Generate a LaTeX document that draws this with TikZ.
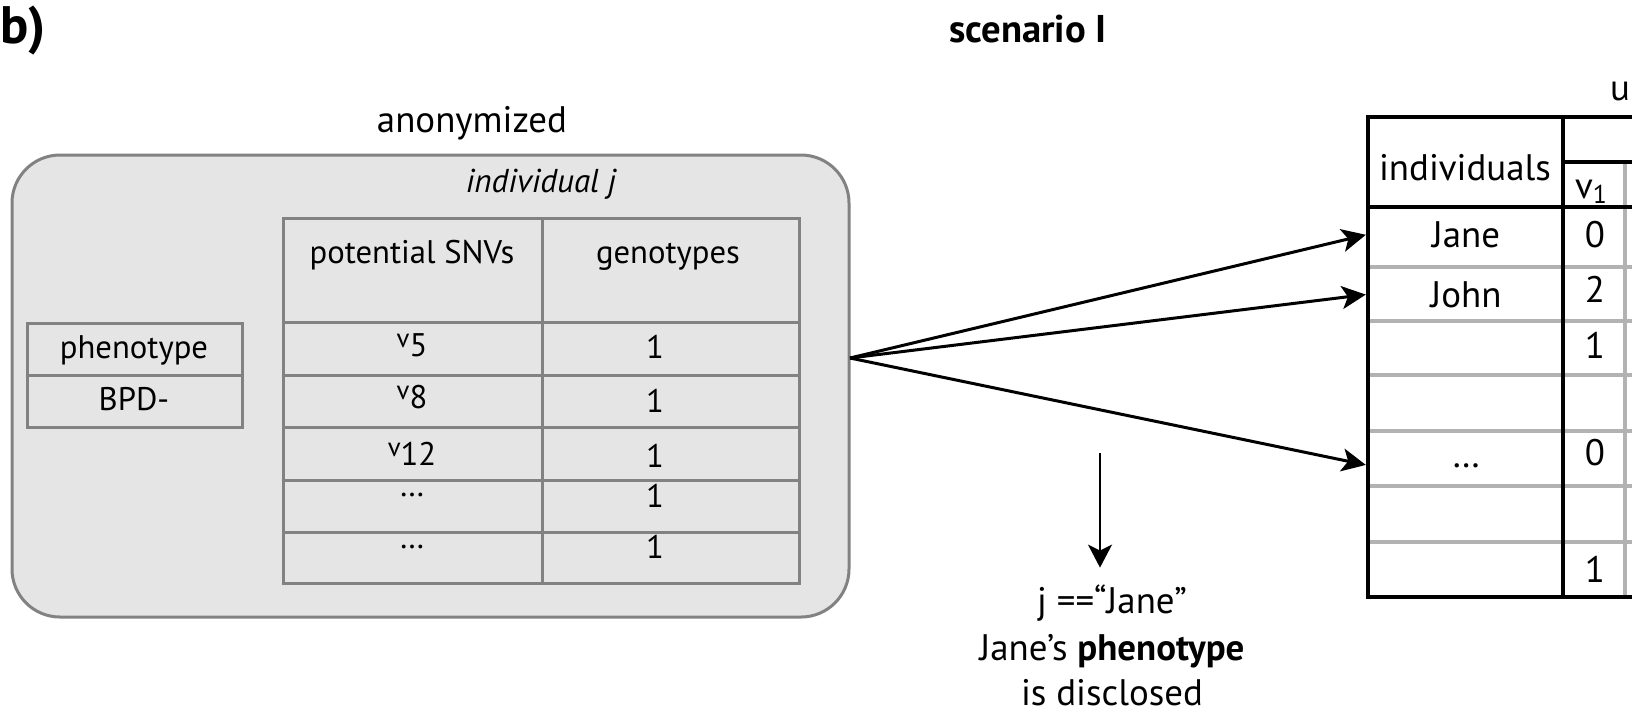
\documentclass[tikz,border=0pt]{standalone}
\usepackage{fontspec}
\setmainfont{PT Sans}
\usetikzlibrary{arrows.meta}

\definecolor{anonfill}{RGB}{229,229,229}
\definecolor{anonline}{RGB}{130,130,130}
\definecolor{rowline}{RGB}{178,178,178}

\newcommand{\snv}[1]{\raisebox{0.55ex}{\fontsize{7.6}{9}\selectfont v}#1}

\begin{document}
\begin{tikzpicture}[x=0.1mm,y=-0.1mm,
    lbl/.style={inner sep=0pt,anchor=base,font=\fontsize{9.3}{11}\selectfont},
    biglbl/.style={lbl,font=\fontsize{10.5}{13}\selectfont},
    snvline/.style={draw=anonline,line width=0.3mm},
    blackrule/.style={draw=black,line width=0.4mm},
    grayrule/.style={draw=rowline,line width=0.4mm},
    fan/.style={-{Stealth[length=2.4mm,width=2.3mm,inset=0.6mm]},line width=0.3mm,shorten >=0.2mm},
    drop/.style={-{Stealth[length=2.3mm,width=2.4mm,inset=0.6mm]},line width=0.25mm}]
\useasboundingbox (0,0) rectangle (1632,711);

% panel label and title
\node[anchor=base west,inner sep=0pt,font=\fontsize{15}{18}\selectfont\bfseries] (panel) at (0,43) {b)};
\node[lbl,font=\fontsize{11}{13}\selectfont\bfseries] (title) at (1028,42) {scenario I};

% anonymized record
\node[biglbl] (anontitle) at (472,132) {anonymized};
\draw[draw=anonline,fill=anonfill,line width=0.3mm,rounded corners=4.8mm] (12,155) rectangle (849,617);
\node[lbl,font=\fontsize{9.4}{11}\selectfont\itshape] (indiv) at (541,192) {individual j};

\draw[snvline] (27,323) rectangle (242,427);
\draw[snvline] (27,375) -- (242,375);
\node[lbl] (pheno) at (134,358) {phenotype};
\node[lbl] (bpd) at (134,410) {BPD-};

\draw[snvline] (283,218) rectangle (799,583);
\draw[snvline] (542,218) -- (542,583);
\foreach \y in {322,375,427,480,532}
    \draw[snvline] (283,\y) -- (799,\y);
\node[lbl] (snvs) at (412,263) {potential SNVs};
\node[lbl] (geno) at (668,263) {genotypes};
\foreach \n/\y in {5/356,8/408,12/465}
    \node[lbl] (v\n) at (412,\y) {\snv{\n}};
\node[lbl] (vdotsa) at (412,496) {\ldots};
\node[lbl] (vdotsb) at (412,548) {\ldots};
\foreach \y [count=\i] in {358,412,467,507,558}
    \node[lbl] (g\i) at (655,\y) {1};

% genotype database
\foreach \y in {267,321,375,431,486,542}
    \draw[grayrule] (1368,\y) -- (1632,\y);
\draw[grayrule] (1625,162) -- (1625,597);
\draw[blackrule] (1632,117) -- (1368,117) -- (1368,597) -- (1632,597);
\draw[blackrule] (1563,117) -- (1563,597);
\draw[blackrule] (1368,207) -- (1632,207);
\draw[blackrule] (1563,162) -- (1632,162);

\node[biglbl] (unanon) at (1620,100) {u};
\node[biglbl] (indivs) at (1465,180) {individuals};
\node[biglbl] (vone) at (1592,198) {v\textsubscript{1}};
\node[biglbl,minimum width=19.5mm] (jane) at (1466,247) {Jane};
\node[biglbl,minimum width=19.5mm] (john) at (1466,307) {John};
\node[biglbl,minimum width=19.5mm] (others) at (1466,467) {\ldots};
\foreach \v/\y [count=\i] in {0/247,2/302,1/358,0/465,1/582}
    \node[biglbl] (val\i) at (1595,\y) {\v};

% linking
\coordinate (fanstart) at (850,358);
\draw[fan] (fanstart) -- (jane.west);
\draw[fan] (fanstart) -- (john.west);
\draw[fan] (fanstart) -- (others.west);

\node[biglbl] (match) at (1112,613) {j ==“Jane”};
\node[biglbl] (reveal) at (1112,660) {Jane’s \textbf{phenotype}};
\node[biglbl] (disclosed) at (1112,705) {is disclosed};
\coordinate (dropstart) at (1100,453);
\draw[drop,shorten >=1.6mm] (dropstart) -- (dropstart |- match.north);
\end{tikzpicture}
\end{document}
